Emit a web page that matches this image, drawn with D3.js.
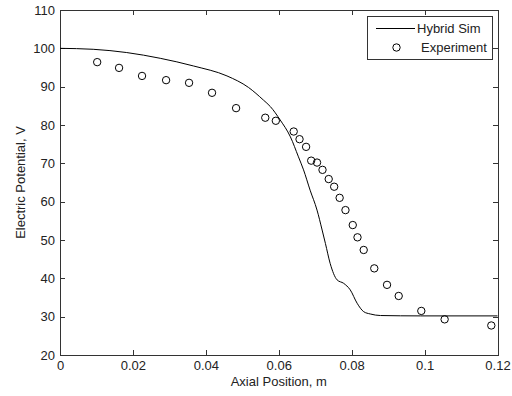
<!DOCTYPE html>
<html>
<head>
<meta charset="utf-8">
<script src="https://cdn.jsdelivr.net/npm/d3@7"></script>
<style>
  html, body { margin: 0; padding: 0; background: #fff; }
  svg { display: block; font-family: "Liberation Sans", Arial, Helvetica, sans-serif; }
  .axis text { font-size: 13px; fill: #222; }
  .axis path, .axis line { stroke: #333; stroke-width: 1; shape-rendering: crispEdges; }
</style>
</head>
<body>
<svg id="chart" width="512" height="396"></svg>
<script>
// Hybrid simulation: axial position (m) and electric potential (V)
const simX = [0, 0.0091, 0.0183, 0.0275, 0.0366, 0.0458, 0.0517, 0.0558, 0.0577, 0.0604, 0.0632,
  0.0654, 0.0668, 0.0686, 0.0705, 0.0719, 0.0728, 0.0741, 0.0760, 0.0778, 0.0796, 0.0815,
  0.0833, 0.0851, 0.0879, 0.0989, 0.12];
const simV = [100.0, 99.75, 98.9, 97.4, 95.4, 92.8, 89.8, 86.5, 84.8, 81.3, 76.9,
  71.7, 68.3, 63.0, 57.8, 52.6, 49.1, 43.9, 39.6, 38.7, 37.0, 33.5,
  31.3, 30.7, 30.3, 30.2, 30.2];

// Experimental measurements
const expX = [0.0102, 0.0162, 0.0225, 0.0291, 0.0354, 0.0417, 0.0483, 0.0563, 0.0592, 0.0641,
  0.0657, 0.0675, 0.0689, 0.0705, 0.0720, 0.0737, 0.0752, 0.0767, 0.0783, 0.0803,
  0.0816, 0.0833, 0.0862, 0.0897, 0.0929, 0.0991, 0.1055, 0.1183];
const expV = [96.4, 94.9, 92.8, 91.7, 91.0, 88.4, 84.4, 81.9, 81.1, 78.3,
  76.3, 74.3, 70.7, 70.2, 68.3, 65.9, 63.9, 61.0, 57.8, 53.9,
  50.7, 47.4, 42.6, 38.3, 35.4, 31.5, 29.3, 27.7];

const xTicks = [0, 0.02, 0.04, 0.06, 0.08, 0.1, 0.12];
const xTickLabels = ["0", "0.02", "0.04", "0.06", "0.08", "0.1", "0.12"];
const yTicks = [20, 30, 40, 50, 60, 70, 80, 90, 100, 110];
const yTickLabels = ["20", "30", "40", "50", "60", "70", "80", "90", "100", "110"];

const svg = d3.select("#chart");
const plotLeft = 60, plotRight = 497.5, plotTop = 10, plotBottom = 355;

const x = d3.scaleLinear().domain([0, 0.12]).range([plotLeft, plotRight]);
const y = d3.scaleLinear().domain([20, 110]).range([plotBottom, plotTop]);

// Axes with inward ticks on all four sides
svg.append("g").attr("class", "axis")
  .attr("transform", `translate(0,${plotBottom})`)
  .call(d3.axisBottom(x).tickValues(xTicks)
    .tickFormat((d, i) => xTickLabels[i])
    .tickSizeInner(-5).tickSizeOuter(0).tickPadding(6));

svg.append("g").attr("class", "axis")
  .attr("transform", `translate(0,${plotTop})`)
  .call(d3.axisTop(x).tickValues(xTicks).tickFormat("")
    .tickSizeInner(-5).tickSizeOuter(0));

svg.append("g").attr("class", "axis")
  .attr("transform", `translate(${plotLeft},0)`)
  .call(d3.axisLeft(y).tickValues(yTicks)
    .tickFormat((d, i) => yTickLabels[i])
    .tickSizeInner(-5).tickSizeOuter(0).tickPadding(5));

svg.append("g").attr("class", "axis")
  .attr("transform", `translate(${plotRight},0)`)
  .call(d3.axisRight(y).tickValues(yTicks).tickFormat("")
    .tickSizeInner(-5).tickSizeOuter(0));

// Simulation curve
const simData = simX.map((d, i) => [d, simV[i]]);
svg.append("path")
  .datum(simData)
  .attr("fill", "none")
  .attr("stroke", "#000")
  .attr("stroke-width", 1)
  .attr("d", d3.line().x(d => x(d[0])).y(d => y(d[1])).curve(d3.curveMonotoneX));

// Experimental points
const expData = expX.map((d, i) => [d, expV[i]]);
svg.append("g").selectAll("circle")
  .data(expData)
  .join("circle")
  .attr("cx", d => x(d[0]))
  .attr("cy", d => y(d[1]))
  .attr("r", 3.7)
  .attr("fill", "none")
  .attr("stroke", "#000")
  .attr("stroke-width", 1);

// Axis titles
svg.append("text")
  .attr("x", (plotLeft + plotRight) / 2)
  .attr("y", 386)
  .attr("text-anchor", "middle")
  .attr("font-size", 13)
  .attr("fill", "#222")
  .text("Axial Position, m");

svg.append("text")
  .attr("transform", `translate(25,${(plotTop + plotBottom) / 2}) rotate(-90)`)
  .attr("text-anchor", "middle")
  .attr("font-size", 13)
  .attr("fill", "#222")
  .text("Electric Potential, V");

// Legend
const lg = svg.append("g");
lg.append("rect")
  .attr("x", 367.5).attr("y", 16.5)
  .attr("width", 125).attr("height", 43)
  .attr("fill", "#fff").attr("stroke", "#333").attr("stroke-width", 1);
lg.append("line")
  .attr("x1", 376).attr("x2", 415).attr("y1", 28.5).attr("y2", 28.5)
  .attr("stroke", "#000").attr("stroke-width", 1);
lg.append("text")
  .attr("x", 417).attr("y", 33).attr("font-size", 13).attr("fill", "#222")
  .text("Hybrid Sim");
lg.append("circle")
  .attr("cx", 396.5).attr("cy", 47.5).attr("r", 3.7)
  .attr("fill", "none").attr("stroke", "#000").attr("stroke-width", 1);
lg.append("text")
  .attr("x", 421).attr("y", 52).attr("font-size", 13).attr("fill", "#222")
  .text("Experiment");
</script>
</body>
</html>
